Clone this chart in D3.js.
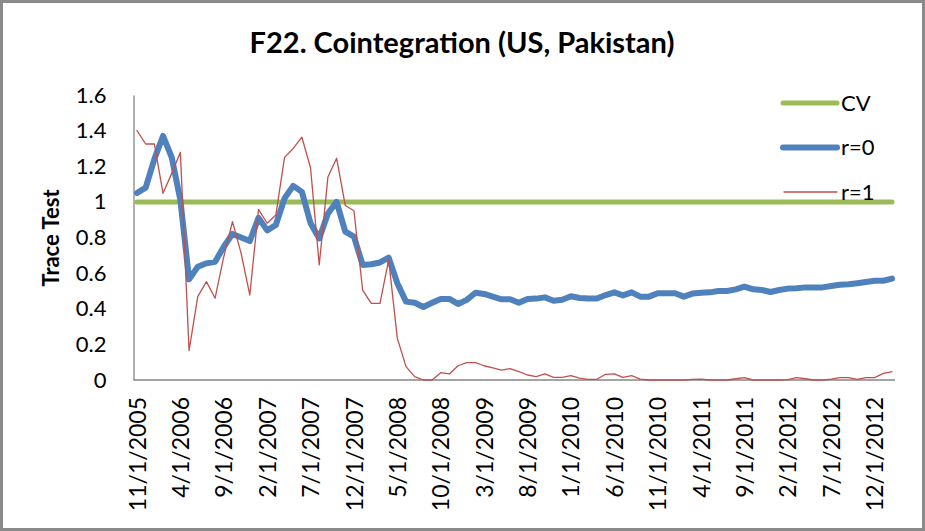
<!DOCTYPE html>
<html>
<head>
<meta charset="utf-8">
<script src="https://cdn.jsdelivr.net/npm/d3@7"></script>
<style>
  body { margin: 0; background: #fff; }
  svg text { font-family: Lato, "Open Sans", sans-serif; fill: #000; }
</style>
</head>
<body>
<div id="chart"></div>
<script>
// monthly observations, 11/2005 .. 2/2013
const startYear = 2005, startMonth = 11, nMonths = 88;
const months = d3.range(nMonths).map(i => {
  const m = (startMonth - 1 + i) % 12 + 1;
  const y = startYear + Math.floor((startMonth - 1 + i) / 12);
  return m + "/1/" + y;
});

// trace statistic / critical value
const cv = months.map(() => 1);

const r0 = [
  1.05, 1.08, 1.24, 1.37, 1.25, 1.01, 0.565, 0.636, 0.655, 0.664,
  0.748, 0.82, 0.80, 0.78, 0.91, 0.84, 0.87, 1.02, 1.09, 1.056,
  0.88, 0.795, 0.935, 1.0, 0.833, 0.805, 0.646, 0.65, 0.66, 0.687,
  0.543, 0.44, 0.434, 0.41, 0.434, 0.455, 0.455, 0.427, 0.45, 0.49,
  0.483, 0.468, 0.453, 0.453, 0.434, 0.455, 0.457, 0.464, 0.445, 0.45,
  0.47, 0.46, 0.457, 0.457, 0.477, 0.492, 0.475, 0.492, 0.468, 0.468,
  0.487, 0.487, 0.487, 0.468, 0.485, 0.49, 0.492, 0.50, 0.50, 0.509,
  0.524, 0.509, 0.505, 0.494, 0.505, 0.513, 0.515, 0.52, 0.52, 0.52,
  0.528, 0.535, 0.537, 0.543, 0.55, 0.557, 0.557, 0.569
];

const r1 = [
  1.40, 1.325, 1.325, 1.048, 1.16, 1.278, 0.165, 0.468, 0.552, 0.459,
  0.692, 0.889, 0.711, 0.477, 0.958, 0.88, 0.926, 1.25, 1.30, 1.363,
  1.19, 0.646, 1.14, 1.245, 0.98, 0.95, 0.505, 0.43, 0.43, 0.674,
  0.234, 0.075, 0.019, 0.0, 0.0, 0.041, 0.034, 0.08, 0.097, 0.097,
  0.08, 0.068, 0.056, 0.064, 0.047, 0.028, 0.019, 0.034, 0.015, 0.015,
  0.024, 0.01, 0.004, 0.004, 0.032, 0.034, 0.015, 0.024, 0.005, 0.0,
  0.0, 0.0, 0.0, 0.0, 0.003, 0.005, 0.0, 0.0, 0.0, 0.007,
  0.013, 0.0, 0.0, 0.0, 0.0, 0.002, 0.013, 0.007, 0.0, 0.0,
  0.005, 0.013, 0.013, 0.004, 0.013, 0.013, 0.037, 0.047
];

const yTicks = [0, 0.2, 0.4, 0.6, 0.8, 1, 1.2, 1.4, 1.6];
const labelEvery = 5;

const series = [
  { name: "CV", values: cv, color: "#9bbb59", width: 5 },
  { name: "r=0", values: r0, color: "#4f81bd", width: 6 },
  { name: "r=1", values: r1, color: "#c0504d", width: 1.3 }
];

const W = 925, H = 531;
const plot = { left: 133.5, right: 895, top: 95, bottom: 380 };

const svg = d3.select("#chart").append("svg")
  .attr("width", W).attr("height", H);

// marco exterior del grafico
svg.append("rect")
  .attr("x", 1.5).attr("y", 1.5)
  .attr("width", W - 3).attr("height", H - 3)
  .attr("fill", "#fff")
  .attr("stroke", "#8a8a8a")
  .attr("stroke-width", 3);

const x = d3.scalePoint()
  .domain(months)
  .range([137, 892]);

const y = d3.scaleLinear()
  .domain([0, 1.6])
  .range([plot.bottom, plot.top]);

// titulo
svg.append("text")
  .attr("x", 462).attr("y", 53)
  .attr("text-anchor", "middle")
  .style("font-size", "29px")
  .style("font-weight", "bold")
  .text("F22. Cointegration (US, Pakistan)");

// eje y
const yAxis = svg.append("g")
  .attr("transform", `translate(${plot.left},0)`)
  .call(d3.axisLeft(y).tickValues(yTicks).tickSize(0).tickPadding(27)
    .tickFormat(d => d3.format("")(+d.toFixed(1))));
yAxis.select(".domain").attr("stroke", "#868686").attr("stroke-width", 1.3);
yAxis.selectAll("text")
  .style("font-size", "22px")
  .style("font-family", "Lato, sans-serif");

// eje x
const xAxis = svg.append("g")
  .attr("transform", `translate(0,${plot.bottom})`)
  .call(d3.axisBottom(x)
    .tickValues(months.filter((d, i) => i % labelEvery === 0))
    .tickSize(0));
xAxis.select(".domain")
  .attr("d", `M${plot.left},0H${plot.right}`)
  .attr("stroke", "#868686").attr("stroke-width", 1.3);
xAxis.selectAll("text")
  .attr("transform", "rotate(-90)")
  .attr("x", -17).attr("y", 0).attr("dy", "0.35em")
  .attr("text-anchor", "end")
  .style("font-size", "23px")
  .style("font-family", "Lato, sans-serif");

// titulo eje y
svg.append("text")
  .attr("transform", `translate(59,238) rotate(-90)`)
  .attr("text-anchor", "middle")
  .style("font-size", "22px")
  .style("font-weight", "bold")
  .text("Trace Test");

// lineas
const line = d3.line()
  .x((d, i) => x(months[i]))
  .y(d => y(d));

svg.selectAll("path.serie")
  .data(series)
  .join("path")
  .attr("class", "serie")
  .attr("d", d => line(d.values))
  .attr("fill", "none")
  .attr("stroke", d => d.color)
  .attr("stroke-width", d => d.width)
  .attr("stroke-linejoin", "round")
  .attr("stroke-linecap", "round");

// leyenda
const legend = svg.selectAll("g.legend")
  .data(series)
  .join("g")
  .attr("class", "legend")
  .attr("transform", (d, i) => `translate(783,${103 + i * 44.5})`);
legend.append("line")
  .attr("x1", (d, i) => i === 2 ? 1 : 0).attr("x2", 54)
  .attr("stroke", d => d.color)
  .attr("stroke-width", d => d.width)
  .attr("stroke-linecap", "round");
legend.append("text")
  .attr("x", 58).attr("dy", "0.35em")
  .style("font-size", "22px")
  .text(d => d.name);
</script>
</body>
</html>
